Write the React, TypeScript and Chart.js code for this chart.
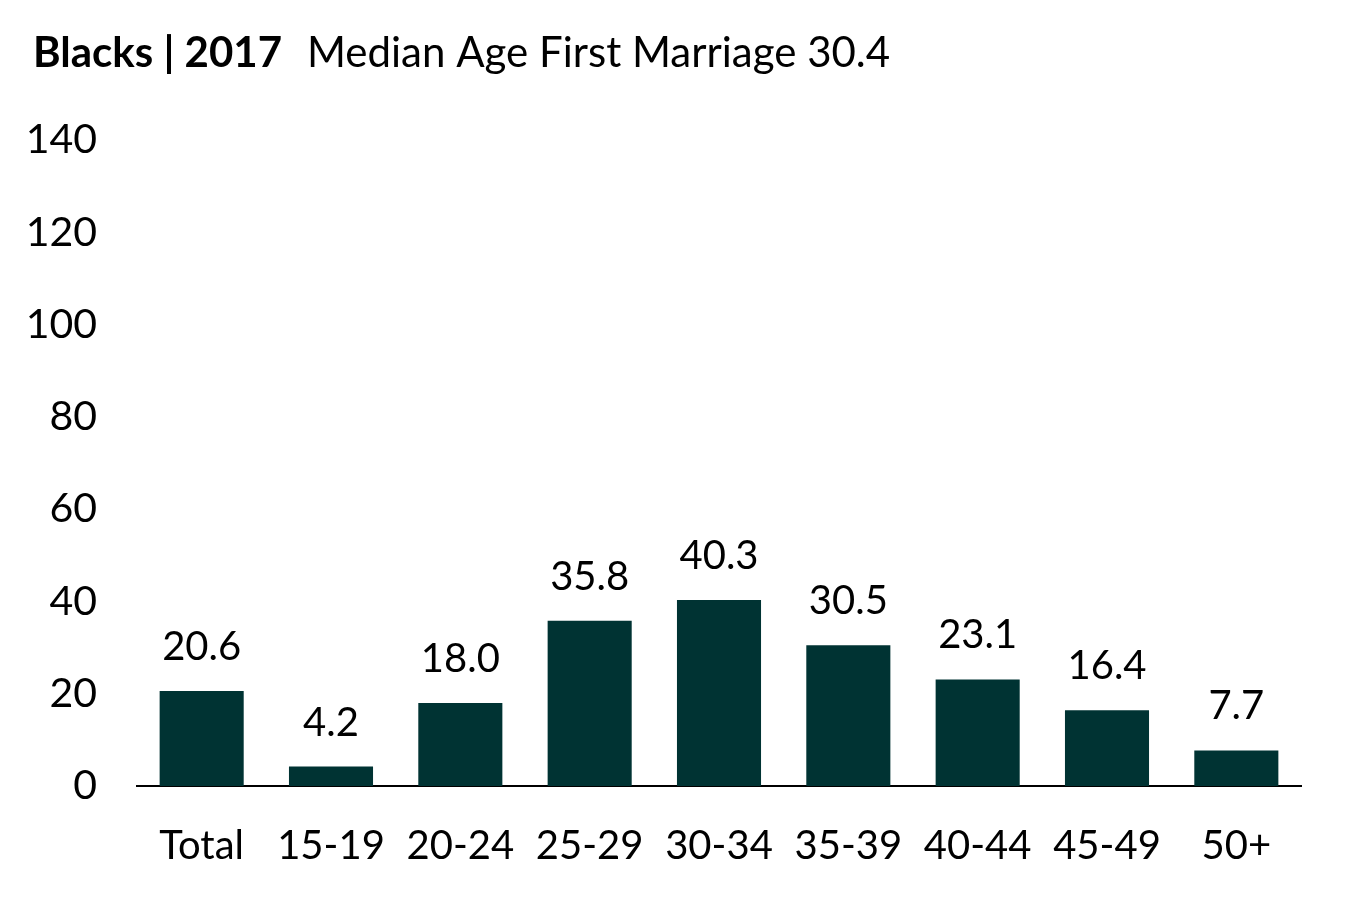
import React, { useEffect, useRef } from "react";
import { Chart, registerables } from "chart.js";

Chart.register(...registerables);

const categories = ["Total", "15-19", "20-24", "25-29", "30-34", "35-39", "40-44", "45-49", "50+"];
const values = [20.6, 4.2, 18.0, 35.8, 40.3, 30.5, 23.1, 16.4, 7.7];
const titleBold = "Blacks | 2017";
const titleRegular = "Median Age First Marriage 30.4";
const yMin = 0;
const yMax = 140;
const yStep = 20;

const FONT = "Lato, 'Open Sans', sans-serif";
const BAR_COLOR = "#003333";

const titlePlugin = {
  id: "customTitle",
  afterDraw(chart: any) {
    const ctx = chart.ctx;
    ctx.save();
    ctx.fillStyle = "#000";
    ctx.textBaseline = "alphabetic";
    ctx.textAlign = "left";
    ctx.font = `bold 42px ${FONT}`;
    ctx.fillText(titleBold, 33, 67);
    ctx.font = `42px ${FONT}`;
    ctx.fillText(titleRegular, 307, 67);
    ctx.restore();
  },
};

const dataLabelPlugin = {
  id: "dataLabels",
  afterDatasetsDraw(chart: any) {
    const ctx = chart.ctx;
    const meta = chart.getDatasetMeta(0);
    ctx.save();
    ctx.fillStyle = "#000";
    ctx.font = `40px ${FONT}`;
    ctx.textAlign = "center";
    ctx.textBaseline = "middle";
    meta.data.forEach((bar: any, i: number) => {
      const v = chart.data.datasets[0].data[i] as number;
      ctx.fillText(v.toFixed(1), bar.x, bar.y - 44);
    });
    ctx.restore();
  },
};

export default function App() {
  const ref = useRef<HTMLCanvasElement>(null);
  useEffect(() => {
    if (!ref.current) return;
    const chart = new Chart(ref.current, {
      type: "bar",
      data: {
        labels: categories,
        datasets: [
          {
            data: values,
            backgroundColor: BAR_COLOR,
            borderWidth: 0,
            categoryPercentage: 1,
            barPercentage: 0.65,
          },
        ],
      },
      options: {
        responsive: false,
        animation: false,
        layout: { padding: { top: 140, left: 0, right: 46, bottom: 31 } },
        plugins: {
          legend: { display: false },
          tooltip: { enabled: false },
          title: { display: false },
        },
        scales: {
          x: {
            grid: { display: false, drawTicks: false },
            border: { display: true, color: "#000", width: 2 },
            ticks: { color: "#000", font: { family: FONT, size: 40 }, padding: 36 },
            afterFit: (s: any) => {
              s.height = 80;
            },
          },
          y: {
            min: yMin,
            max: yMax,
            grid: { display: false, drawTicks: false },
            border: { display: false },
            ticks: { stepSize: yStep, color: "#000", font: { family: FONT, size: 41 }, padding: 40 },
            afterFit: (s: any) => {
              s.width = 137;
            },
          },
        },
      },
      plugins: [titlePlugin, dataLabelPlugin],
    });
    return () => chart.destroy();
  }, []);
  return (
    <div style={{ position: "fixed", left: 0, top: 0, width: 1347, height: 897, background: "#fff" }}>
      <canvas ref={ref} width={1347} height={897} style={{ width: 1347, height: 897 }} />
    </div>
  );
}
